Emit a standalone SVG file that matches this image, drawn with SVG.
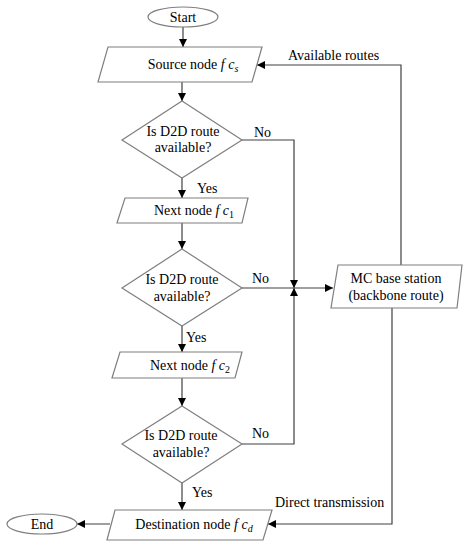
<svg xmlns="http://www.w3.org/2000/svg" width="471" height="550" viewBox="0 0 471 550" font-family="'Liberation Serif', 'Times New Roman', 'DejaVu Serif', serif">
<defs>
<marker id="ah" viewBox="0 0 10 10" refX="10" refY="5" markerWidth="8" markerHeight="8" markerUnits="userSpaceOnUse" orient="auto">
<path d="M0,0 L10,5 L0,10 z" fill="#000"/>
</marker>
<style>
.sh{fill:#fff;stroke:#7f7f7f;stroke-width:1.2}
.t{font-family:'Liberation Serif','Times New Roman','DejaVu Serif',serif;font-size:14px;fill:#000}
.m{text-anchor:middle}
.i{font-style:italic}
.c{fill:none;stroke:#404040;stroke-width:1.2}
</style>
</defs>
<rect width="471" height="550" fill="#fff"/>
<g id="connectors">
<path class="c" d="M183,27 V47" marker-end="url(#ah)"/>
<path class="c" d="M182,82 V101" marker-end="url(#ah)"/>
<path class="c" d="M182,178 V198" marker-end="url(#ah)"/>
<path class="c" d="M182,223 V249" marker-end="url(#ah)"/>
<path class="c" d="M182,326 V352" marker-end="url(#ah)"/>
<path class="c" d="M182,378 V406" marker-end="url(#ah)"/>
<path class="c" d="M182,483 V510" marker-end="url(#ah)"/>
<path class="c" d="M110,524 H77" marker-end="url(#ah)"/>
<path class="c" d="M242,140 H294 V288" marker-end="url(#ah)"/>
<path class="c" d="M242,444 H294 V288" marker-end="url(#ah)"/>
<path class="c" d="M242,288 H333" marker-end="url(#ah)"/>
<path class="c" d="M401,265 V65 H257" marker-end="url(#ah)"/>
<path class="c" d="M392,308 V524 H268" marker-end="url(#ah)"/>
<text class="t" x="254" y="137">No</text>
<text class="t" x="252" y="283">No</text>
<text class="t" x="252" y="438">No</text>
<text class="t" x="197" y="193">Yes</text>
<text class="t" x="186" y="342">Yes</text>
<text class="t" x="192" y="497">Yes</text>
<text class="t" x="288" y="60">Available routes</text>
<text class="t" x="275" y="507">Direct transmission</text>
</g>
<g id="start">
<ellipse class="sh" cx="183" cy="17" rx="35" ry="10"/>
<text class="t m" x="183" y="22">Start</text>
</g>
<g id="source">
<path class="sh" d="M108,47 H262 L252,82 H98 Z"/>
<text class="t m" x="193" y="69">Source node <tspan class="i">f c</tspan><tspan class="i" font-size="10" dy="3">s</tspan></text>
</g>
<g id="decision1">
<path class="sh" d="M182,101 L242,140 L182,178 L122,140 Z"/>
<text class="t m" x="183" y="136">Is D2D route</text>
<text class="t m" x="183" y="152">available?</text>
</g>
<g id="next1">
<path class="sh" d="M125,198 H248 L242,223 H117 Z"/>
<text class="t m" x="194" y="215">Next node <tspan class="i">f c</tspan><tspan font-size="10" dy="3">1</tspan></text>
</g>
<g id="decision2">
<path class="sh" d="M182,249 L242,288 L182,326 L122,288 Z"/>
<text class="t m" x="182" y="284">Is D2D route</text>
<text class="t m" x="182" y="301">available?</text>
</g>
<g id="next2">
<path class="sh" d="M120,352 H242 L235,378 H112 Z"/>
<text class="t m" x="190" y="370">Next node <tspan class="i">f c</tspan><tspan font-size="10" dy="3">2</tspan></text>
</g>
<g id="decision3">
<path class="sh" d="M182,406 L242,444 L182,483 L122,444 Z"/>
<text class="t m" x="181" y="440">Is D2D route</text>
<text class="t m" x="181" y="457">available?</text>
</g>
<g id="destination">
<path class="sh" d="M115,510 H272 L263,540 H107 Z"/>
<text class="t m" x="194" y="529">Destination node <tspan class="i">f c</tspan><tspan class="i" font-size="10" dy="3">d</tspan></text>
</g>
<g id="end">
<ellipse class="sh" cx="42" cy="524" rx="35" ry="10"/>
<text class="t m" x="42" y="529">End</text>
</g>
<g id="mc">
<path class="sh" d="M338,265 H462 L457,308 H331 Z"/>
<text class="t m" x="396" y="283">MC base station</text>
<text class="t m" x="396" y="300">(backbone route)</text>
</g>
</svg>
